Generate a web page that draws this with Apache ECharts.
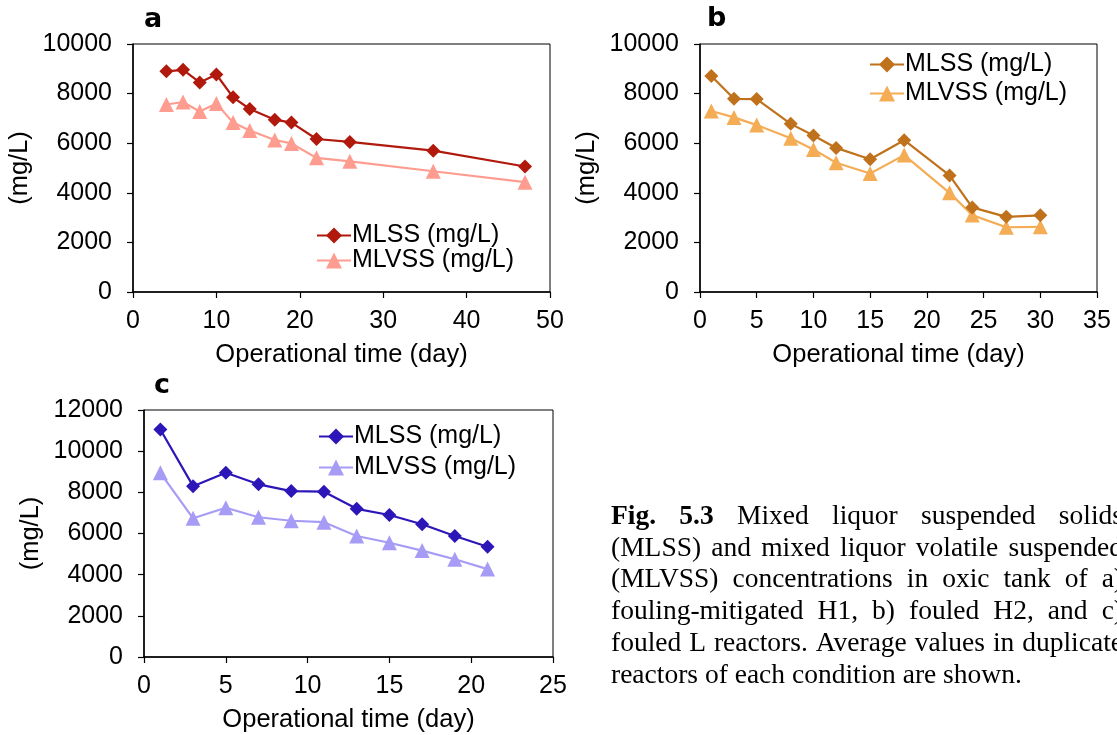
<!DOCTYPE html>
<html>
<head>
<meta charset="utf-8">
<script src="https://cdn.jsdelivr.net/npm/echarts@6/dist/echarts.min.js"></script>
<style>
html,body{margin:0;padding:0;background:#fff;overflow:hidden;}
#chart{width:1117px;height:735px;}
</style>
</head>
<body>
<div id="chart"></div>
<script>
// ---- Data ----
const aDays  = [4, 6, 8, 10, 12, 14, 17, 19, 22, 26, 36, 47];
const aMLSS  = [8900, 8960, 8450, 8770, 7850, 7380, 6950, 6830, 6170, 6050, 5700, 5060];
const aMLVSS = [7560, 7660, 7280, 7600, 6830, 6510, 6130, 5990, 5410, 5270, 4870, 4430];

const bDays  = [1, 3, 5, 8, 10, 12, 15, 18, 22, 24, 27, 30];
const bMLSS  = [8710, 7790, 7780, 6780, 6310, 5810, 5350, 6120, 4700, 3410, 3030, 3090];
const bMLVSS = [7300, 7040, 6730, 6200, 5750, 5210, 4780, 5520, 4000, 3100, 2610, 2630];

const cDays  = [1, 3, 5, 7, 9, 11, 13, 15, 17, 19, 21];
const cMLSS  = [11050, 8300, 8950, 8390, 8060, 8030, 7200, 6900, 6450, 5880, 5360];
const cMLVSS = [8950, 6740, 7250, 6790, 6620, 6550, 5880, 5550, 5170, 4750, 4270];

const seriesNames = ['MLSS (mg/L)', 'MLVSS (mg/L)'];
const xName = 'Operational time (day)';
const yName = '(mg/L)';
const panelLetters = ['a', 'b', 'c'];

const captionLines = [
  [['Fig.', true], ['5.3', true], ['Mixed', false], ['liquor', false], ['suspended', false], ['solids', false]],
  [['(MLSS)', false], ['and', false], ['mixed', false], ['liquor', false], ['volatile', false], ['suspended', false]],
  [['(MLVSS)', false], ['concentrations', false], ['in', false], ['oxic', false], ['tank', false], ['of', false], ['a)', false]],
  [['fouling-mitigated', false], ['H1,', false], ['b)', false], ['fouled', false], ['H2,', false], ['and', false], ['c)', false]],
  [['fouled', false], ['L', false], ['reactors.', false], ['Average', false], ['values', false], ['in', false], ['duplicate', false]],
  [['reactors', false], ['of', false], ['each', false], ['condition', false], ['are', false], ['shown.', false]]
];

// ---- Styles ----
const FONT = 'Liberation Sans, Arial, sans-serif';
const colors = {
  a: ['#B0190C', '#FF9C90'],
  b: ['#C0711B', '#F4AC55'],
  c: ['#2C16B8', '#A79CF5']
};

function zip(x, y) { return x.map((d, i) => [d, y[i]]); }

function axisPair(idx, xmax, xint, ymax, yint) {
  const common = {
    axisLine: { show: true, lineStyle: { color: '#000', width: 1.5 } },
    axisTick: { show: true, length: 6, lineStyle: { color: '#000', width: 1.2 } },
    splitLine: { show: false },
    axisLabel: { color: '#000', fontSize: 25, fontFamily: FONT, formatter: v => String(v) },
    nameTextStyle: { color: '#000', fontSize: 25.5, fontFamily: FONT }
  };
  const x = Object.assign({}, common, {
    type: 'value', gridIndex: idx, min: 0, max: xmax, interval: xint,
    name: xName, nameLocation: 'middle', nameGap: 50,
    axisLabel: Object.assign({}, common.axisLabel, { margin: 17 })
  });
  const y = Object.assign({}, common, {
    type: 'value', gridIndex: idx, min: 0, max: ymax, interval: yint,
    name: yName, nameLocation: 'middle', nameGap: 100, nameRotate: 90,
    axisLabel: Object.assign({}, common.axisLabel, { margin: 21 })
  });
  return [x, y];
}

const [ax, ay] = axisPair(0, 50, 10, 10000, 2000);
const [bx, by] = axisPair(1, 35, 5, 10000, 2000);
const [cx, cy] = axisPair(2, 25, 5, 12000, 2000);

function mkSeries(name, idx, data, color, symbol) {
  return {
    name: name, type: 'line', xAxisIndex: idx, yAxisIndex: idx,
    data: data, symbol: symbol, symbolSize: symbol === 'diamond' ? 14 : 15,
    showAllSymbol: true,
    lineStyle: { color: color, width: 2.2 },
    itemStyle: { color: color },
    emphasis: { disabled: true },
    animation: false, z: symbol === 'diamond' ? 3 : 2
  };
}

const series = [
  mkSeries('a1', 0, zip(aDays, aMLSS), colors.a[0], 'diamond'),
  mkSeries('a2', 0, zip(aDays, aMLVSS), colors.a[1], 'triangle'),
  mkSeries('b1', 1, zip(bDays, bMLSS), colors.b[0], 'diamond'),
  mkSeries('b2', 1, zip(bDays, bMLVSS), colors.b[1], 'triangle'),
  mkSeries('c1', 2, zip(cDays, cMLSS), colors.c[0], 'diamond'),
  mkSeries('c2', 2, zip(cDays, cMLVSS), colors.c[1], 'triangle')
];

function mkLegend(keys, left, top, gap) {
  return {
    data: keys.map((k) => ({ name: k })),
    orient: 'vertical', left: left, top: top, itemGap: gap,
    itemWidth: 34, itemHeight: 20, padding: 0,
    selectedMode: false,
    formatter: n => seriesNames[Number(n.slice(1)) - 1],
    textStyle: { color: '#000', fontSize: 25, fontFamily: FONT, lineHeight: 24, padding: [0, 0, 0, -4] }
  };
}

// ---- Caption (justified) ----
const capFontSize = 27.5;
const capFamily = 'Liberation Serif, Times New Roman, serif';
const capLeft = 611, capRight = 1123, capTop = 518, capLineH = 31.7;
const mctx = document.createElement('canvas').getContext('2d');
function measure(t, bold) {
  mctx.font = (bold ? 'bold ' : '') + capFontSize + 'px ' + capFamily;
  return mctx.measureText(t).width;
}
const captionEls = [];
captionLines.forEach((words, li) => {
  const widths = words.map(w => measure(w[0], w[1]));
  const total = widths.reduce((s, w) => s + w, 0);
  const last = li === captionLines.length - 1;
  const gap = last ? measure(' ', false) : (capRight - capLeft - total) / (words.length - 1);
  let x = capLeft;
  words.forEach((w, wi) => {
    captionEls.push({
      type: 'text', left: x, top: capTop + li * capLineH - capFontSize * 0.55,
      style: { text: w[0], fill: '#000', font: (w[1] ? 'bold ' : '') + capFontSize + 'px ' + capFamily }
    });
    x += widths[wi] + gap;
  });
});

const letterPos = [[144, 6], [707, 5], [154, 372]];
const letterEls = panelLetters.map((l, i) => ({
  type: 'text', left: letterPos[i][0], top: letterPos[i][1],
  style: { text: l, fill: '#000', font: '900 27px "DejaVu Sans", Arial, sans-serif' }
}));

const option = {
  animation: false,
  backgroundColor: '#fff',
  grid: [
    { left: 133, top: 44, width: 417, height: 248, show: true, borderColor: '#000', borderWidth: 1, backgroundColor: 'transparent' },
    { left: 700, top: 44, width: 397, height: 248, show: true, borderColor: '#000', borderWidth: 1, backgroundColor: 'transparent' },
    { left: 144, top: 410, width: 409, height: 247, show: true, borderColor: '#000', borderWidth: 1, backgroundColor: 'transparent' }
  ],
  xAxis: [ax, bx, cx],
  yAxis: [ay, by, cy],
  legend: [
    mkLegend(['a1', 'a2'], 316, 223, 0),
    mkLegend(['b1', 'b2'], 869, 52, 4),
    mkLegend(['c1', 'c2'], 318, 424, 6)
  ],
  series: series,
  graphic: letterEls.concat(captionEls)
};

const chart = echarts.init(document.getElementById('chart'));
chart.setOption(option);
</script>
</body>
</html>
